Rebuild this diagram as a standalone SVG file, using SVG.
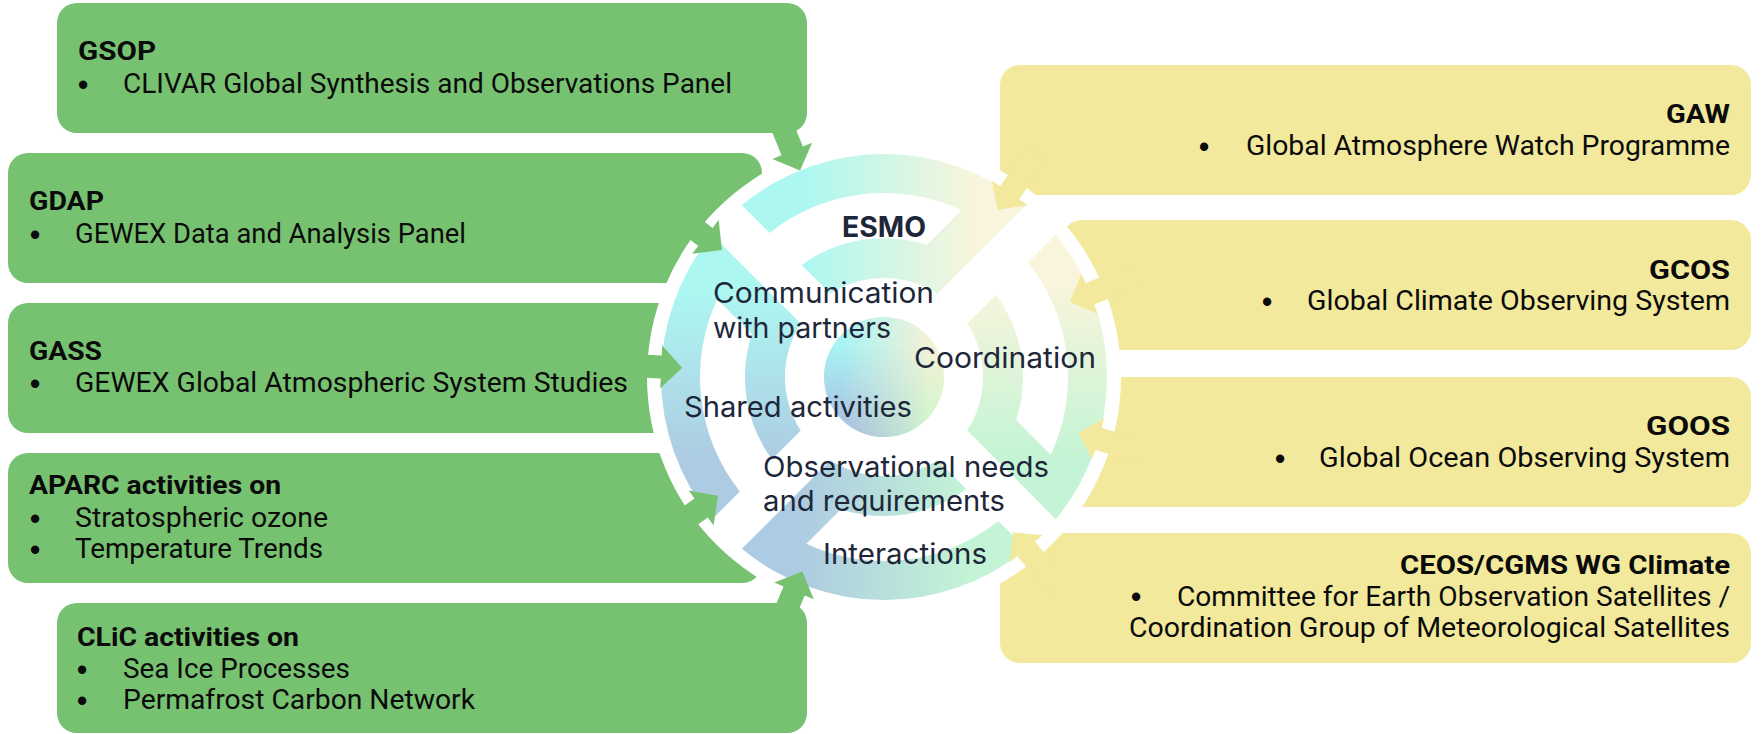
<svg xmlns="http://www.w3.org/2000/svg" xmlns:xlink="http://www.w3.org/1999/xlink" width="1761" height="734" viewBox="0 0 1761 734">
  <defs>
    <style>
      .box-g { fill: #77C271; }
      .box-y { fill: #F2E99D; }
      .txt { font-family: Roboto, "Liberation Sans", sans-serif; font-size: 27px; fill: #0b0b0b; }
      .bul { font-family: "Liberation Sans", sans-serif; font-size: 29px; font-weight: 700; fill: #0b0b0b; text-anchor: middle; }
      .ttl { font-family: Roboto, "Liberation Sans", sans-serif; font-size: 26px; font-weight: 700; fill: #0b0b0b; }
      .lbl { font-family: Inter, "Liberation Sans", sans-serif; font-size: 28.5px; fill: #1E2739; }
      .lbl-b { font-family: Inter, "Liberation Sans", sans-serif; font-size: 28.5px; font-weight: 700; fill: #1E2739; }
      .arrow-g { fill: #77C271; }
      .arrow-y { fill: #F2E99D; }
    </style>

    <!-- one U-shaped band of the wheel: outer arc, diagonal step, inner arc (drawn for the top quarter, rotated for the others) -->
    <path id="band" d="M -142.14,-171.83 A 223,223 0 0 1 142.14,-171.83 L 53.56,-83.26 A 99,99 0 0 0 -53.56,-83.26 L -82.31,-112.01 A 139,139 0 0 1 43.06,-132.16 L 77.70,-166.79 A 184,184 0 0 0 -114.41,-144.11 Z"/>

    <linearGradient id="gTop" x1="0" y1="0" x2="1" y2="0">
      <stop offset="0.22" stop-color="#ADF7F1"/>
      <stop offset="0.82" stop-color="#F8F5DC"/>
    </linearGradient>
    <linearGradient id="gRight" x1="0" y1="0" x2="1" y2="0">
      <stop offset="0.18" stop-color="#F8F5DC"/>
      <stop offset="0.8" stop-color="#C3F4D5"/>
    </linearGradient>
    <linearGradient id="gBottom" x1="0" y1="0" x2="1" y2="0">
      <stop offset="0.2" stop-color="#C3F4D5"/>
      <stop offset="0.8" stop-color="#ADCBE2"/>
    </linearGradient>
    <linearGradient id="gLeft" x1="0" y1="0" x2="1" y2="0">
      <stop offset="0.2" stop-color="#ADCBE2"/>
      <stop offset="0.8" stop-color="#ADF7F1"/>
    </linearGradient>

    <!-- hub disc: cyan/yellow on top blending into blue/green below -->
    <linearGradient id="hubTop" x1="0" y1="0" x2="1" y2="0">
      <stop offset="0.15" stop-color="#A8F4F4"/>
      <stop offset="0.9" stop-color="#F6F1D6"/>
    </linearGradient>
    <linearGradient id="hubBottom" x1="0" y1="0" x2="1" y2="0">
      <stop offset="0.15" stop-color="#A9B9DF"/>
      <stop offset="0.9" stop-color="#CDF6CC"/>
    </linearGradient>
    <linearGradient id="hubFade" x1="0" y1="0" x2="0" y2="1">
      <stop offset="0.25" stop-color="#000"/>
      <stop offset="0.95" stop-color="#fff"/>
    </linearGradient>
    <mask id="hubMask" maskUnits="userSpaceOnUse" x="820" y="313" width="128" height="128">
      <rect x="820" y="313" width="128" height="128" fill="url(#hubFade)"/>
    </mask>
  </defs>

  <rect width="1761" height="734" fill="#ffffff"/>

  <!-- left partner panels -->
  <g id="gsop">
    <rect class="box-g" x="57" y="3" width="750" height="130" rx="20"/>
    <text class="ttl" x="78" y="60" textLength="78" lengthAdjust="spacingAndGlyphs">GSOP</text>
    <text class="bul" x="83" y="95">•</text>
    <text class="txt" x="123" y="93" textLength="609" lengthAdjust="spacingAndGlyphs">CLIVAR Global Synthesis and Observations Panel</text>
  </g>
  <g id="gdap">
    <rect class="box-g" x="8" y="153" width="754" height="130" rx="20"/>
    <text class="ttl" x="29" y="210" textLength="75" lengthAdjust="spacingAndGlyphs">GDAP</text>
    <text class="bul" x="35" y="245">•</text>
    <text class="txt" x="75" y="243" textLength="391" lengthAdjust="spacingAndGlyphs">GEWEX Data and Analysis Panel</text>
  </g>
  <g id="gass">
    <rect class="box-g" x="8" y="303" width="754" height="130" rx="20"/>
    <text class="ttl" x="29" y="360" textLength="73" lengthAdjust="spacingAndGlyphs">GASS</text>
    <text class="bul" x="35" y="394">•</text>
    <text class="txt" x="75" y="392" textLength="553" lengthAdjust="spacingAndGlyphs">GEWEX Global Atmospheric System Studies</text>
  </g>
  <g id="aparc">
    <rect class="box-g" x="8" y="453" width="754" height="130" rx="20"/>
    <text class="ttl" x="29" y="494" textLength="252" lengthAdjust="spacingAndGlyphs">APARC activities on</text>
    <text class="bul" x="35" y="529">•</text>
    <text class="txt" x="75" y="527" textLength="253" lengthAdjust="spacingAndGlyphs">Stratospheric ozone</text>
    <text class="bul" x="35" y="560">•</text>
    <text class="txt" x="75" y="558" textLength="248" lengthAdjust="spacingAndGlyphs">Temperature Trends</text>
  </g>
  <g id="clic">
    <rect class="box-g" x="57" y="603" width="750" height="130" rx="20"/>
    <text class="ttl" x="77" y="646" textLength="222" lengthAdjust="spacingAndGlyphs">CLiC activities on</text>
    <text class="bul" x="82" y="680">•</text>
    <text class="txt" x="123" y="678" textLength="227" lengthAdjust="spacingAndGlyphs">Sea Ice Processes</text>
    <text class="bul" x="82" y="711">•</text>
    <text class="txt" x="123" y="709" textLength="352" lengthAdjust="spacingAndGlyphs">Permafrost Carbon Network</text>
  </g>

  <!-- right observing-system panels -->
  <g id="gaw">
    <rect class="box-y" x="1000" y="65" width="751" height="130" rx="20"/>
    <text class="ttl" x="1666" y="123" textLength="64" lengthAdjust="spacingAndGlyphs">GAW</text>
    <text class="bul" x="1204" y="157">•</text>
    <text class="txt" x="1246" y="155" textLength="484" lengthAdjust="spacingAndGlyphs">Global Atmosphere Watch Programme</text>
  </g>
  <g id="gcos">
    <rect class="box-y" x="1062" y="220" width="689" height="130" rx="20"/>
    <text class="ttl" x="1649" y="279" textLength="81" lengthAdjust="spacingAndGlyphs">GCOS</text>
    <text class="bul" x="1267" y="312">•</text>
    <text class="txt" x="1307" y="310" textLength="423" lengthAdjust="spacingAndGlyphs">Global Climate Observing System</text>
  </g>
  <g id="goos">
    <rect class="box-y" x="1062" y="377" width="689" height="130" rx="20"/>
    <text class="ttl" x="1646" y="435" textLength="84" lengthAdjust="spacingAndGlyphs">GOOS</text>
    <text class="bul" x="1280" y="469">•</text>
    <text class="txt" x="1319" y="467" textLength="411" lengthAdjust="spacingAndGlyphs">Global Ocean Observing System</text>
  </g>
  <g id="ceos">
    <rect class="box-y" x="1000" y="533" width="751" height="130" rx="20"/>
    <text class="ttl" x="1400" y="574" textLength="330" lengthAdjust="spacingAndGlyphs">CEOS/CGMS WG Climate</text>
    <text class="bul" x="1136" y="607">•</text>
    <text class="txt" x="1177" y="606" textLength="553" lengthAdjust="spacingAndGlyphs">Committee for Earth Observation Satellites /</text>
    <text class="txt" x="1129" y="637" textLength="601" lengthAdjust="spacingAndGlyphs">Coordination Group of Meteorological Satellites</text>
  </g>

  <!-- ESMO wheel: white surround, four bands, hub and labels -->
  <g id="esmo">
    <circle cx="884" cy="377" r="237" fill="#ffffff"/>
    <use xlink:href="#band" href="#band" transform="translate(884 377)" fill="url(#gTop)"/>
    <use xlink:href="#band" href="#band" transform="translate(884 377) rotate(90)" fill="url(#gRight)"/>
    <use xlink:href="#band" href="#band" transform="translate(884 377) rotate(180)" fill="url(#gBottom)"/>
    <use xlink:href="#band" href="#band" transform="translate(884 377) rotate(-90)" fill="url(#gLeft)"/>
    <circle cx="884" cy="377" r="60" fill="url(#hubTop)"/>
    <circle cx="884" cy="377" r="60" fill="url(#hubBottom)" mask="url(#hubMask)"/>
  </g>

  <!-- arrows from each panel into the wheel -->
  <g id="connectors">
    <polygon class="arrow-g" points="800.1,170.4 812.1,142.8 802.9,146.6 792.3,120.7 771.0,129.3 781.5,155.2 772.3,159.0"/>
    <polygon class="arrow-g" points="721.9,249.9 718.7,220.0 712.5,227.9 677.1,200.1 662.9,218.2 698.3,245.9 692.1,253.8"/>
    <polygon class="arrow-g" points="682.2,367.8 662.2,345.4 661.7,355.4 612.8,353.2 611.8,376.2 660.7,378.4 660.2,388.4"/>
    <polygon class="arrow-g" points="718.1,495.7 688.6,490.5 694.4,498.6 656.1,526.0 669.5,544.7 707.8,517.4 713.6,525.5"/>
    <polygon class="arrow-g" points="802.2,571.5 774.3,582.6 783.5,586.4 768.0,623.3 789.2,632.3 804.7,595.4 813.9,599.2"/>
    <polygon class="arrow-y" points="997.8,210.1 1027.5,204.9 1019.2,199.3 1046.8,158.8 1027.8,145.8 1000.2,186.3 991.9,180.7"/>
    <polygon class="arrow-y" points="1069.9,301.9 1097.5,313.9 1093.7,304.7 1140.5,285.8 1131.9,264.4 1085.1,283.3 1081.3,274.1"/>
    <polygon class="arrow-y" points="1078.1,433.0 1092.3,459.5 1095.1,449.9 1142.1,463.5 1148.5,441.4 1101.5,427.8 1104.3,418.1"/>
    <polygon class="arrow-y" points="1012.8,532.6 1009.5,562.5 1017.2,556.1 1048.5,593.9 1066.3,579.3 1035.0,541.5 1042.7,535.1"/>
  </g>

  <g id="wheel-labels">
    <text class="lbl-b" x="842" y="237" textLength="84" lengthAdjust="spacingAndGlyphs">ESMO</text>
    <text class="lbl" x="713" y="303" textLength="221" lengthAdjust="spacingAndGlyphs">Communication</text>
    <text class="lbl" x="713" y="338" textLength="178" lengthAdjust="spacingAndGlyphs">with partners</text>
    <text class="lbl" x="914" y="368" textLength="182" lengthAdjust="spacingAndGlyphs">Coordination</text>
    <text class="lbl" x="684" y="417" textLength="228" lengthAdjust="spacingAndGlyphs">Shared activities</text>
    <text class="lbl" x="763" y="477" textLength="286" lengthAdjust="spacingAndGlyphs">Observational needs</text>
    <text class="lbl" x="763" y="511" textLength="242" lengthAdjust="spacingAndGlyphs">and requirements</text>
    <text class="lbl" x="823" y="564" textLength="164" lengthAdjust="spacingAndGlyphs">Interactions</text>
  </g>
</svg>
